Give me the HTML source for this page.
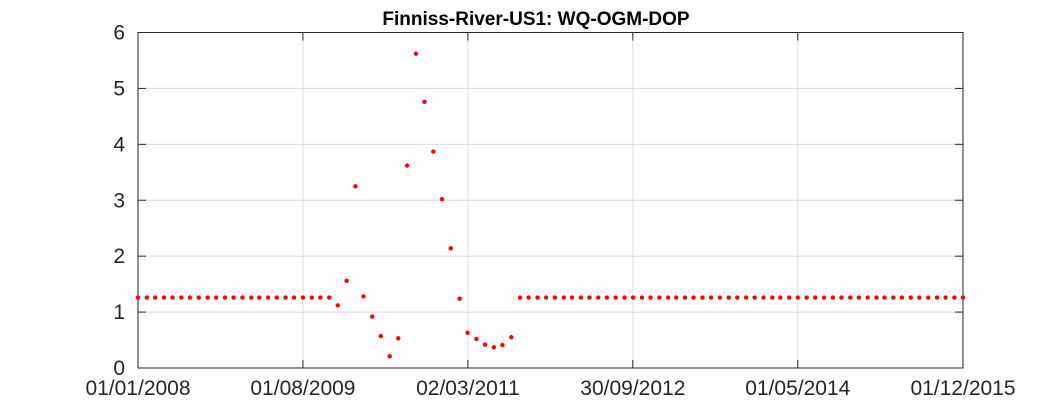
<!DOCTYPE html>
<html><head><meta charset="utf-8"><style>
html,body{margin:0;padding:0;background:#fff;}
svg{display:block;font-family:"Liberation Sans",Arial,sans-serif;}
</style></head><body>
<svg id="chart" width="1063" height="413">
<rect width="1063" height="413" fill="#fff"/>
<text x="536" y="25" text-anchor="middle" font-size="19" font-weight="bold" fill="#000">Finniss-River-US1: WQ-OGM-DOP</text>
<g id="grid"></g>
<g id="axes"></g>
<g id="points"></g>
</svg>
<script>
const startYear = 2008, startMonth = 0, monthCount = 96;
const spikeStartIndex = 23;
const spikeValues = [1.12,1.56,3.25,1.28,0.92,0.57,0.21,0.53,3.62,5.62,4.76,3.87,3.02,2.14,1.24,0.63,0.52,0.42,0.37,0.41,0.55];
const baseValue = 1.26;
const yTicks = [0,1,2,3,4,5,6];
const xTickLabels = ["01/01/2008","01/08/2009","02/03/2011","30/09/2012","01/05/2014","01/12/2015"];
const xTickDates = ["2008-01-01","2009-08-01","2011-03-02","2012-09-30","2014-05-01","2015-12-01"];

const L=138,R=963,T=32.5,B=368;
const t0=Date.UTC(2008,0,1), t1=Date.UTC(2015,11,1);
const xs=t=>L+(t-t0)/(t1-t0)*(R-L);
const ys=v=>B-(v-0)/(6-0)*(B-T);
const NS="http://www.w3.org/2000/svg";
function mk(tag,attrs,parent){const e=document.createElementNS(NS,tag);for(const k in attrs)e.setAttribute(k,attrs[k]);parent.appendChild(e);return e;}
const grid=document.getElementById('grid'),axes=document.getElementById('axes'),pts=document.getElementById('points');

yTicks.forEach(v=>{
  const y=ys(v);
  const g=mk('line',{x1:L,x2:R,y1:y,y2:y,stroke:'#dcdcdc','stroke-width':1},grid);
  
  
  const t1l=mk('line',{x1:L,x2:L+8,y1:y,y2:y,stroke:'#262626'},axes);
  
  
  const t2l=mk('line',{x1:R,x2:R-8,y1:y,y2:y,stroke:'#262626'},axes);
  
  
  const tx=mk('text',{x:L-13,y:y+7,'text-anchor':'end','font-size':21,fill:'#262626'},axes);
  tx.textContent=v;
  
  
});
xTickDates.forEach((d,i)=>{
  const x=xs(Date.parse(d+"T00:00:00Z"));
  const g=mk('line',{x1:x,x2:x,y1:T,y2:B,stroke:'#dcdcdc'},grid);
  
  
  const a=mk('line',{x1:x,x2:x,y1:B,y2:B-8,stroke:'#262626'},axes);
  
  
  const b=mk('line',{x1:x,x2:x,y1:T,y2:T+8,stroke:'#262626'},axes);
  
  
  const tx=mk('text',{x:x,y:B+27,'text-anchor':'middle','font-size':21,fill:'#262626'},axes);
  tx.textContent=xTickLabels[i];
  
  
});
const box=mk('rect',{x:L,y:T,width:R-L,height:B-T,fill:'none',stroke:'#262626','stroke-width':1},axes);



for(let i=0;i<monthCount;i++){
  const k=i-spikeStartIndex;
  const v=(k>=0&&k<spikeValues.length)?spikeValues[k]:baseValue;
  const t=Date.UTC(startYear,startMonth+i,1);
  const c=mk('circle',{cx:xs(t),cy:ys(v),r:2.2,fill:'#ff0000'},pts);
  
  
}
</script>
</body></html>
